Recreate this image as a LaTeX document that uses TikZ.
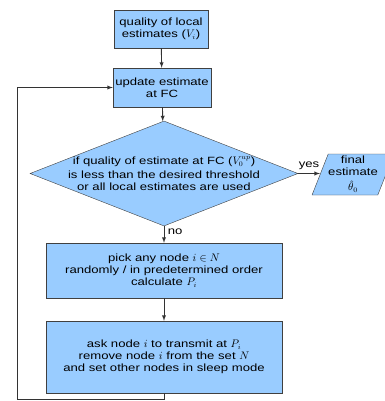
\documentclass[tikz,border=0pt]{standalone}
\usepackage{amsmath}
\usepackage{fontspec}
\setmainfont{Liberation Sans}[FakeStretch=1.25]
\usetikzlibrary{shapes.geometric}

\tikzset{
	letra/.style={font=\fontsize{10.5}{12}\selectfont},
	caja/.style={draw=black!75,fill=azulclaro,align=center,inner sep=0pt,letra},
	flecha/.style={draw=black!80,line width=0.9pt,-latex}
}
\definecolor{azulclaro}{RGB}{153,204,255}

\begin{document}
\begin{tikzpicture}[x=1pt,y=-1pt]
		\useasboundingbox (0,0) rectangle (384,401);
		%Nodos
		\node [caja,minimum width=94,minimum height=38] (calidad) at (161,29) {quality of local\\estimates ($V_i$)};
		\node [caja,minimum width=98,minimum height=39] (actualiza) at (162,87.5) {update estimate\\at FC};
		\node [caja,diamond,aspect=2.55,inner ysep=-5pt,minimum width=268,minimum height=105] (umbral) at (164,173.5) {if quality of estimate at FC ($V_0^{up}$)\\[2.5pt]is less than the desired threshold\\or all local estimates are used};
		\node [caja,trapezium,trapezium left angle=66,trapezium right angle=114,trapezium stretches=true,minimum width=76,minimum height=41] (final) at (353,174.5) {final\\estimate\\[3pt]$\hat{\theta}_0$};
		\node [caja,minimum width=236,minimum height=55] (elige) at (164,270.5) {pick any node $i\in N$\\randomly / in predetermined order\\calculate $P_i$};
		\node [caja,minimum width=236,minimum height=72] (transmite) at (164,357) {ask node $i$ to transmit at $P_i$\\remove node $i$ from the set $N$\\and set other nodes in sleep mode};
		\coordinate (abajo) at (164,399);
		\coordinate (izq) at (17,399);

		%Arcos
		\draw[flecha] (calidad)--(actualiza);
		\draw[flecha] (actualiza)--(umbral);
		\draw[flecha] (umbral.east)--(umbral.east -| final.west) node[midway,above,letra] {yes};
		\draw[flecha] (umbral)--(elige) node[pos=0.35,right,letra] {no};
		\draw[flecha] (elige)--(transmite);
		\draw[draw=black!80,line width=0.9pt] (transmite)--(abajo)--(izq);
		\draw[flecha] (izq)|-(actualiza);
\end{tikzpicture}
\end{document}
